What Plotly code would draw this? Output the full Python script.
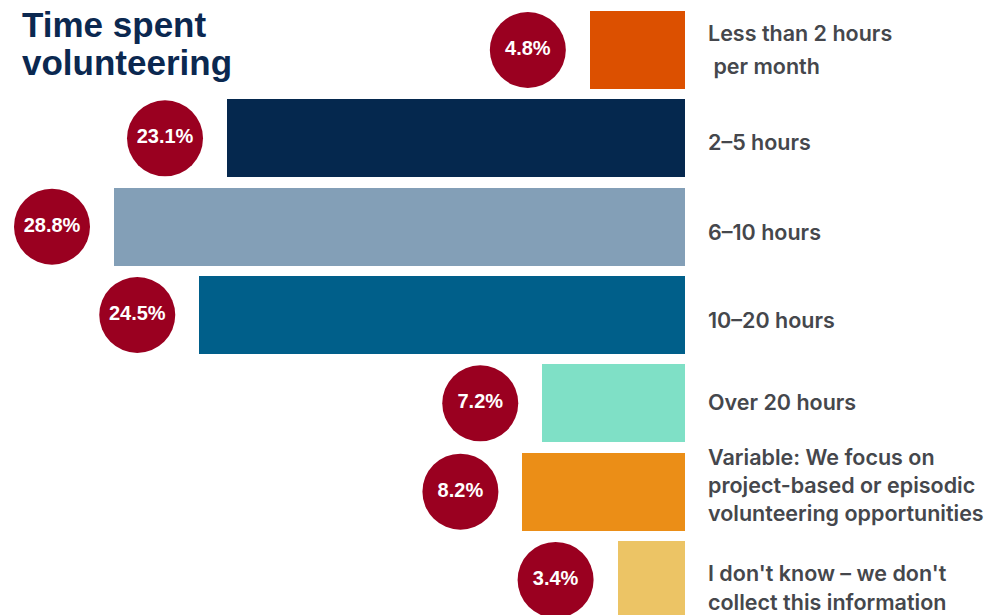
import plotly.graph_objects as go

# ---- data ----
categories = [
    ["Less than 2 hours", " per month"],
    ["2\u20135 hours"],
    ["6\u201310 hours"],
    ["10\u201320 hours"],
    ["Over 20 hours"],
    ["Variable: We focus on<br>project-based or episodic<br>volunteering opportunities"],
    ["I don't know \u2013 we don't", "collect this information"],
]
values = [4.8, 23.1, 28.8, 24.5, 7.2, 8.2, 3.4]
value_labels = ["4.8%", "23.1%", "28.8%", "24.5%", "7.2%", "8.2%", "3.4%"]
title_lines = ["Time spent", "volunteering"]

# ---- style ----
bar_colors = ["#dc5000", "#05284e", "#839fb7", "#005f8a", "#7fe0c6", "#eb8e17", "#ecc465"]
circle_color = "#9a0020"
label_color = "#45474c"
W, H = 1002, 615
plot_right = 685
x_max = 34.55
px_per_unit = plot_right / x_max
circle_gap_px = 62
pitch_px = 88.33
first_center_px = 50
line_spacing = [33, 0, 0, 0, 0, 0, 29]
line_nudge = [1, -4, -5, -5, 1, 7, -8]
title_line_px = [24, 63]

ypos = list(range(len(values)))
y_top = -first_center_px / pitch_px
y_bot = (len(values) - 1) + (H - (first_center_px + (len(values) - 1) * pitch_px)) / pitch_px

fig = go.Figure()
fig.add_trace(go.Bar(
    x=values, y=ypos, orientation="h",
    marker=dict(color=bar_colors, line=dict(width=0)),
    width=78 / pitch_px, hoverinfo="skip",
))
offset = circle_gap_px / px_per_unit
fig.add_trace(go.Scatter(
    x=[v + offset for v in values], y=ypos, mode="markers+text",
    marker=dict(size=76, color=circle_color, line=dict(width=0)),
    text=value_labels, textposition="middle center",
    textfont=dict(family="Liberation Sans", size=20, color="white", weight="bold"),
    cliponaxis=False, hoverinfo="skip",
))

annotations = []
for i, lines in enumerate(categories):
    n = len(lines)
    for j, line in enumerate(lines):
        shift = (j - (n - 1) / 2) * line_spacing[i]
        annotations.append(dict(
            x=1, xref="paper", y=ypos[i], yref="y", xanchor="left", yanchor="middle",
            xshift=21, yshift=-shift + line_nudge[i], text=line, showarrow=False,
            align="left",
            font=dict(family="Inter", size=21.5, color=label_color, weight=600),
        ))
for k, t in enumerate(title_lines):
    annotations.append(dict(
        x=20 / plot_right, xref="paper", y=1 - title_line_px[k] / H, yref="paper",
        text=t, showarrow=False, xanchor="left", yanchor="middle", align="left",
        font=dict(family="Liberation Sans", size=35, color="#0b2850", weight="bold"),
    ))

fig.update_layout(
    width=W, height=H,
    margin=dict(l=0, r=W - plot_right, t=0, b=0),
    plot_bgcolor="white", paper_bgcolor="white",
    showlegend=False,
    xaxis=dict(range=[x_max, 0], visible=False, fixedrange=True),
    yaxis=dict(range=[y_bot, y_top], visible=False, fixedrange=True),
    annotations=annotations,
    bargap=0,
)
fig.write_html("out.html")
